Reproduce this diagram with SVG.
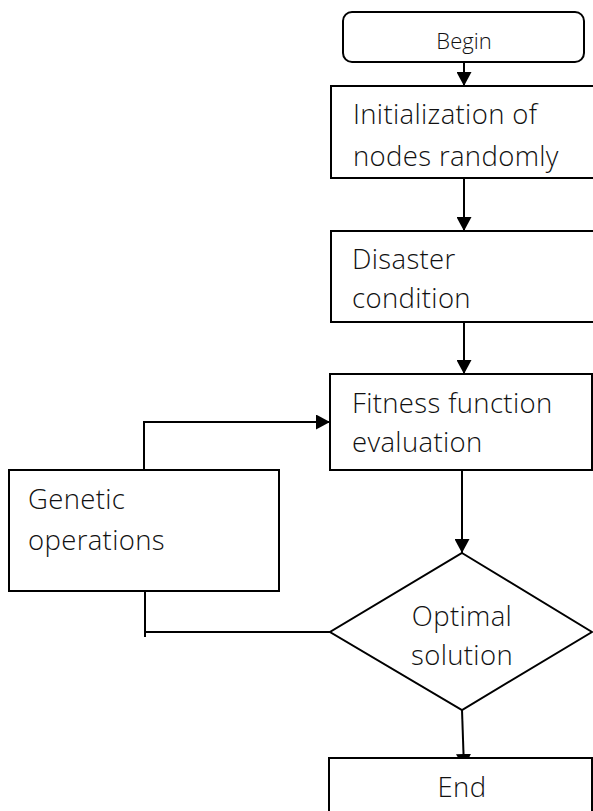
<svg xmlns="http://www.w3.org/2000/svg" width="593" height="811" viewBox="0 0 593 811">
<style>
.box{fill:#fff;stroke:#000;stroke-width:2}
.ln{fill:none;stroke:#000;stroke-width:2}
.t{font-family:"Open Sans","Liberation Sans",sans-serif;font-size:27.5px;font-weight:300;letter-spacing:0.35px;fill:#111}
.tc{text-anchor:middle}
</style>
<defs>
<marker id="ah" viewBox="0 0 14 15" refX="14" refY="7.5" markerWidth="14" markerHeight="15" markerUnits="userSpaceOnUse" orient="auto">
<path d="M0,0 L14,7.5 L0,15 Z" fill="#000"/>
</marker>
</defs>
<g id="connectors">
<line class="ln" x1="464" y1="62" x2="464" y2="86" marker-end="url(#ah)"/>
<line class="ln" x1="464" y1="178" x2="464" y2="231" marker-end="url(#ah)"/>
<line class="ln" x1="464" y1="322" x2="464" y2="374" marker-end="url(#ah)"/>
<line class="ln" x1="462" y1="470" x2="462" y2="553" marker-end="url(#ah)"/>
<line class="ln" x1="462" y1="710" x2="464" y2="768" marker-end="url(#ah)"/>
<polyline class="ln" points="144,470 144,422 330,422" marker-end="url(#ah)"/>
<polyline class="ln" points="145,591 145,637"/>
<polyline class="ln" points="145,632 330,632"/>
</g>
<g id="begin">
<rect class="box" x="343" y="12" width="241" height="50" rx="9"/>
<text class="t tc" x="464" y="49" style="font-size:22px;letter-spacing:0">Begin</text>
</g>
<g id="init">
<rect class="box" x="331" y="86" width="270" height="92"/>
<text class="t" x="353" y="124">Initialization of</text>
<text class="t" x="353" y="166">nodes randomly</text>
</g>
<g id="disaster">
<rect class="box" x="331" y="231" width="270" height="91"/>
<text class="t" x="352" y="269">Disaster</text>
<text class="t" x="352" y="308">condition</text>
</g>
<g id="fitness">
<rect class="box" x="330" y="374" width="262" height="96"/>
<text class="t" x="352" y="413">Fitness function</text>
<text class="t" x="352" y="452">evaluation</text>
</g>
<g id="genetic">
<rect class="box" x="9" y="470" width="270" height="121"/>
<text class="t" x="28" y="509">Genetic</text>
<text class="t" x="28" y="550">operations</text>
</g>
<g id="optimal">
<polygon class="box" points="462,553 592,632 462,710 330,632"/>
<text class="t tc" x="462" y="626">Optimal</text>
<text class="t tc" x="462" y="665">solution</text>
</g>
<g id="end">
<rect class="box" x="329" y="758" width="263" height="60"/>
<text class="t tc" x="462" y="797">End</text>
</g>
</svg>
